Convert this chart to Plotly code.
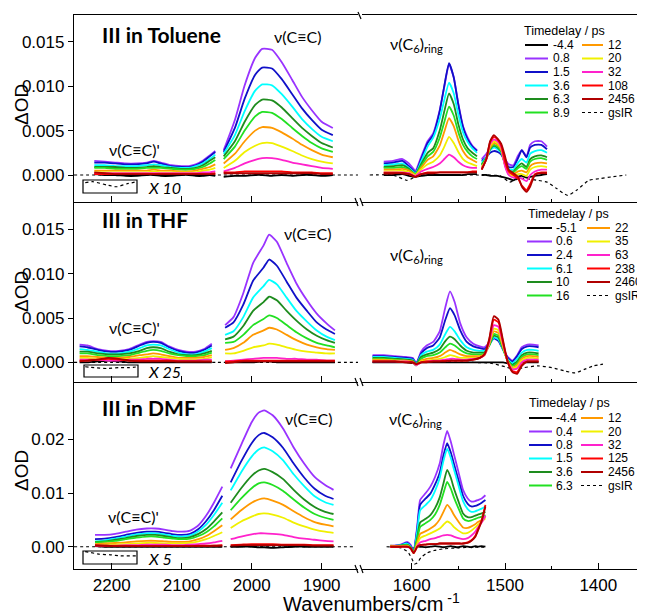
import numpy as np
import plotly.graph_objects as go

W, H = 645, 616
OFF = 8  # page body margin of the html page
UNIT = 1e-4  # all series values below are in units of 1e-4 dOD

COLORS = ["#000000", "#9933ff", "#1010c8", "#00ffff", "#1e8c1e", "#22e022",
          "#ff9900", "#f0f000", "#ff22cc", "#ff0000", "#b00000"]

TOL_DELAYS = ["-4.4", "0.8", "1.5", "3.6", "6.3", "8.9", "12", "20", "32", "108", "2456"]
THF_DELAYS = ["-5.1", "0.6", "2.4", "6.1", "10", "16", "22", "35", "63", "238", "2460"]
DMF_DELAYS = ["-4.4", "0.4", "0.8", "1.5", "3.6", "6.3", "12", "20", "32", "125", "2456"]

LEFT_XTICKS = [2200, 2100, 2000, 1900]
RIGHT_XTICKS = [1600, 1500, 1400]
Y_TICKS_SMALL = [0.0, 0.005, 0.010, 0.015]
Y_TICKS_DMF = [0.0, 0.01, 0.02]

# ---------------- Toluene ----------------
TOL_A_WN = [2225, 2210, 2195, 2180, 2165, 2150, 2140, 2130, 2115, 2100, 2090, 2080, 2070, 2060, 2052]
TOL_A = [
    [1, 0, 0, -1, -1, 0, 0, -1, -1, 0, 0, -1, -1, 0, -1],
    [16, 15, 14, 13, 13, 14, 16, 14, 11, 10, 10, 12, 16, 22, 27],
    [14, 14, 13, 12, 12, 13, 15, 13, 10, 9, 9, 11, 15, 21, 26],
    [11, 11, 10, 10, 10, 11, 12, 11, 9, 8, 8, 10, 13, 18, 23],
    [9, 9, 9, 8, 8, 9, 10, 9, 8, 7, 7, 8, 11, 16, 20],
    [8, 8, 7, 7, 7, 8, 8, 8, 7, 6, 6, 7, 9, 13, 17],
    [5, 5, 5, 5, 5, 5, 6, 5, 5, 4, 4, 5, 7, 9, 12],
    [3, 3, 3, 3, 3, 3, 4, 3, 3, 3, 3, 3, 5, 6, 8],
    [2, 2, 2, 2, 2, 2, 2, 2, 2, 2, 2, 2, 3, 3, 4],
    [1, 1, 1, 1, 1, 1, 1, 1, 1, 1, 1, 1, 1, 1, 2],
    [3, 2, 1, 1, 1, 1, 1, 1, 1, 1, 1, 1, 1, 1, 1],
]
TOL_B_WN = [2040, 2024, 2010, 1995, 1985, 1971, 1957, 1942, 1928, 1914, 1900, 1884]
TOL_B = [
    [-2, -1, -1, 0, 0, -1, 0, -1, 0, 0, -1, 0],
    [28, 62, 101, 132, 142, 141, 127, 107, 88, 73, 60, 53],
    [26, 53, 86, 113, 121, 120, 108, 91, 75, 62, 51, 45],
    [24, 45, 72, 95, 102, 101, 91, 77, 63, 52, 43, 38],
    [21, 38, 60, 79, 85, 84, 76, 64, 53, 44, 36, 31],
    [18, 32, 50, 66, 71, 70, 63, 53, 44, 36, 30, 26],
    [13, 24, 38, 50, 54, 53, 48, 41, 34, 28, 23, 20],
    [8, 16, 26, 33, 36, 36, 32, 27, 22, 18, 15, 13],
    [4, 8, 13, 17, 19, 19, 17, 14, 12, 10, 8, 7],
    [3, 3, 4, 4, 4, 4, 4, 3, 3, 3, 2, 2],
    [2, 2, 2, 2, 2, 2, 2, 2, 2, 2, 1, 1],
]
TOL_C_WN = [1630, 1620, 1610, 1603, 1596, 1590, 1583, 1577, 1570, 1565, 1560, 1555, 1550, 1545, 1540, 1535, 1530]
TOL_C = [
    [0, 0, 1, -1, -2, -1, 0, 0, 0, 0, 0, 0, 0, 0, 1, 1, 1],
    [15, 16, 18, 13, 5, 20, 38, 47, 73, 100, 125, 110, 80, 55, 42, 33, 28],
    [13, 14, 16, 10, 3, 18, 36, 45, 72, 101, 126, 110, 79, 54, 40, 32, 27],
    [11, 12, 13, 8, 2, 15, 32, 42, 63, 85, 104, 92, 68, 48, 37, 30, 25],
    [9, 10, 11, 7, 1, 12, 25, 30, 50, 72, 92, 80, 57, 40, 30, 25, 21],
    [8, 8, 9, 6, 1, 10, 21, 26, 42, 60, 77, 67, 48, 34, 26, 21, 18],
    [6, 6, 7, 5, 0, 8, 17, 21, 33, 49, 64, 55, 39, 27, 20, 17, 14],
    [4, 4, 5, 3, 0, 6, 12, 15, 22, 32, 43, 36, 26, 18, 14, 12, 10],
    [3, 3, 3, 2, -1, 4, 7, 9, 13, 18, 23, 20, 15, 11, 9, 8, 8],
    [2, 2, 2, 1, -2, 1, 3, 3, 3, 3, 3, 3, 3, 3, 3, 4, 4],
    [2, 2, 2, 1, -2, 1, 2, 2, 3, 3, 3, 3, 3, 3, 3, 3, 3],
]
TOL_D_WN = [1525, 1520, 1516, 1512, 1508, 1504, 1500, 1496, 1491, 1486, 1482, 1477, 1473, 1468, 1461, 1455]
TOL_D = [
    [0, 0, -1, -1, -1, -2, -3, -4, -6, -2, -1, -3, -2, -1, 0, 1],
    [18, 24, 30, 32, 30, 27, 18, 12, 11, 22, 28, 21, 34, 38, 38, 32],
    [16, 20, 25, 27, 26, 23, 15, 9, 9, 19, 28, 20, 31, 34, 34, 29],
    [14, 20, 28, 31, 29, 25, 14, 7, 6, 14, 18, 14, 24, 27, 28, 25],
    [12, 19, 29, 33, 31, 26, 12, 5, 4, 10, 13, 9, 18, 21, 22, 20],
    [11, 19, 30, 34, 32, 27, 12, 4, 3, 8, 10, 7, 15, 18, 19, 17],
    [9, 18, 31, 36, 34, 28, 11, 2, 1, 4, 5, 3, 10, 13, 14, 13],
    [8, 18, 33, 38, 36, 30, 11, 1, -1, 1, 1, -1, 6, 9, 10, 9],
    [7, 18, 35, 40, 38, 31, 10, 0, -3, -3, -4, -7, 0, 4, 6, 6],
    [6, 18, 37, 43, 40, 33, 15, 4, 0, -4, -12, -17, -10, 1, 3, 3],
    [6, 18, 38, 45, 41, 35, 21, 6, 2, -2, -13, -19, -13, 0, 2, 2],
]
TOL_GS_L_WN = [2254, 2150, 2050, 1950, 1848]
TOL_GS_L = [0, 0, 0, 0, 0]
TOL_GS_R_WN = [1645, 1620, 1605, 1598, 1590, 1560, 1530, 1505, 1495, 1485, 1477, 1465, 1455, 1445, 1433, 1423, 1410, 1398, 1385, 1370]
TOL_GS_R = [0, 0, -6, -3, 0, 0, 0, -1, -8, -4, -4, -6, -8, -15, -23, -17, -6, -4, -2, 0]
TOL_INSET_WN = [2238, 2227, 2207, 2193, 2179, 2164]
TOL_INSET = [-8.7, -7.5, -11.3, -13.2, -10.1, -7.5]

# ---------------- THF ----------------
THF_A_WN = [2246, 2235, 2220, 2205, 2190, 2175, 2160, 2150, 2141, 2130, 2118, 2105, 2093, 2080, 2068, 2057]
THF_A = [
    [0, 0, 1, 2, 1, 0, 0, 0, 0, 0, 0, 0, 0, 0, 0, 0],
    [20, 19, 15, 13, 13, 15, 20, 23, 24, 23, 18, 14, 12, 12, 15, 21],
    [18, 17, 14, 12, 12, 14, 19, 22, 23, 22, 17, 13, 11, 11, 14, 19],
    [15, 14, 12, 10, 10, 12, 16, 19, 20, 19, 15, 11, 9, 9, 12, 16],
    [12, 12, 10, 9, 9, 10, 13, 16, 17, 16, 12, 9, 8, 8, 10, 13],
    [10, 10, 8, 7, 7, 8, 11, 13, 14, 13, 10, 8, 7, 7, 8, 11],
    [7, 7, 6, 5, 5, 6, 8, 9, 10, 9, 7, 5, 5, 5, 6, 8],
    [5, 5, 4, 4, 4, 4, 5, 6, 7, 6, 5, 4, 3, 3, 4, 6],
    [3, 3, 3, 2, 2, 3, 3, 4, 4, 4, 3, 2, 2, 2, 3, 3],
    [2, 2, 3, 4, 3, 2, 2, 2, 2, 2, 2, 1, 1, 1, 1, 1],
    [1, 2, 3, 5, 4, 2, 1, 1, 1, 1, 1, 1, 1, 1, 1, 1],
]
THF_B_WN = [2038, 2026, 2012, 1998, 1983, 1975, 1964, 1950, 1936, 1921, 1907, 1893, 1881]
THF_B = [
    [0, 0, 0, 0, 1, 1, 0, 0, 0, 0, 0, 0, 0],
    [42, 51, 78, 112, 132, 144, 136, 112, 89, 70, 55, 44, 36],
    [39, 45, 65, 92, 107, 116, 109, 91, 73, 58, 45, 37, 32],
    [31, 35, 51, 73, 86, 93, 88, 73, 58, 46, 36, 29, 25],
    [26, 29, 41, 58, 68, 74, 70, 58, 47, 37, 30, 25, 22],
    [22, 23, 31, 42, 49, 53, 50, 42, 34, 27, 22, 19, 17],
    [14, 16, 22, 31, 36, 39, 37, 31, 25, 20, 17, 15, 14],
    [10, 10, 13, 17, 19, 21, 20, 17, 14, 12, 11, 10, 10],
    [1, 2, 3, 4, 5, 5, 5, 4, 4, 3, 3, 2, 2],
    [1, 1, 2, 2, 2, 2, 2, 2, 2, 2, 2, 2, 2],
    [-1, 0, 1, 1, 1, 1, 1, 1, 1, 1, 1, 1, 1],
]
THF_C_WN = [1642, 1630, 1618, 1606, 1599, 1595, 1590, 1584, 1577, 1570, 1564, 1559, 1554, 1548, 1541,
            1534, 1527, 1522, 1517, 1512, 1507, 1502, 1497, 1492, 1487, 1482, 1476, 1470, 1464]
THF_C = [
    [0, 0, 0, 0, -1, -1, 0, 0, 0, 0, 0, 0, 0, 0, 0, 0, 0, 0, 0, 0, 0, 0, -1, -1, -1, 0, 0, 0, 0],
    [8, 8, 7, 6, 5, -1, 12, 19, 23, 35, 62, 80, 68, 44, 28, 21, 18, 17, 22, 28, 25, 15, 6, 2, 8, 17, 20, 20, 19],
    [7, 7, 6, 5, 4, -1, 10, 16, 19, 28, 48, 61, 53, 36, 23, 18, 16, 15, 20, 27, 24, 14, 5, 1, 7, 15, 18, 18, 17],
    [6, 6, 5, 4, 3, -2, 8, 12, 14, 20, 32, 40, 35, 25, 17, 14, 13, 13, 19, 28, 26, 14, 3, -1, 4, 11, 14, 14, 13],
    [5, 5, 4, 3, 2, -2, 6, 9, 11, 15, 24, 29, 26, 19, 13, 11, 11, 11, 19, 30, 28, 15, 2, -3, 1, 8, 11, 11, 10],
    [4, 4, 3, 2, 1, -3, 4, 7, 8, 11, 17, 21, 19, 14, 10, 9, 9, 10, 19, 32, 30, 16, 1, -4, -1, 6, 9, 9, 8],
    [3, 3, 2, 2, 1, -3, 2, 4, 5, 7, 11, 14, 12, 9, 7, 7, 7, 9, 20, 35, 33, 17, 1, -6, -3, 4, 7, 7, 6],
    [2, 2, 2, 1, 0, -3, 1, 2, 3, 4, 6, 8, 7, 5, 5, 5, 6, 8, 21, 38, 36, 18, 0, -7, -5, 2, 5, 5, 4],
    [1, 1, 1, 1, 0, -3, 0, 1, 2, 2, 3, 4, 4, 3, 3, 4, 5, 8, 22, 42, 40, 20, 0, -8, -7, 0, 3, 3, 3],
    [1, 1, 1, 0, 0, -2, 0, 1, 1, 1, 2, 2, 2, 2, 2, 3, 5, 9, 25, 48, 45, 22, 0, -10, -11, -3, 1, 1, 1],
    [1, 1, 1, 0, 0, -2, 0, 0, 1, 1, 1, 2, 2, 2, 2, 3, 5, 9, 26, 52, 48, 24, 0, -11, -13, -4, 1, 1, 1],
]
THF_GS_L_WN = [2254, 2150, 2050, 1950, 1848]
THF_GS_L = [0, 0, 0, 0, 0]
THF_GS_R_WN = [1642, 1600, 1595, 1590, 1540, 1515, 1500, 1490, 1480, 1465, 1450, 1435, 1425, 1415, 1405, 1395]
THF_GS_R = [0, 0, -4, 0, 0, -1, -5, -8, -6, -4, -6, -10, -12, -8, -4, -2]
THF_INSET_WN = [2238, 2225, 2207, 2190, 2175, 2163]
THF_INSET = [-5, -6, -7, -6, -6, -5]

# ---------------- DMF ----------------
DMF_A_WN = [2224, 2210, 2195, 2180, 2165, 2150, 2138, 2125, 2112, 2100, 2088, 2076, 2065, 2054, 2042]
DMF_A = [
    [1, 0, 0, 0, 0, 0, 0, 0, 0, 0, 0, 0, 0, 0, 0],
    [22, 22, 24, 28, 32, 34, 34, 32, 29, 28, 30, 40, 58, 82, 112],
    [14, 15, 18, 22, 26, 28, 28, 26, 23, 22, 24, 33, 48, 68, 95],
    [10, 12, 15, 19, 23, 25, 25, 23, 20, 19, 21, 29, 41, 59, 82],
    [9, 10, 13, 16, 20, 22, 22, 20, 17, 16, 18, 24, 33, 47, 64],
    [8, 9, 11, 14, 17, 19, 19, 17, 15, 14, 15, 20, 27, 38, 53],
    [5, 6, 7, 8, 10, 11, 11, 10, 9, 9, 10, 14, 20, 29, 40],
    [3, 4, 4, 5, 6, 7, 7, 6, 6, 6, 7, 10, 14, 20, 27],
    [2, 2, 2, 3, 3, 4, 4, 4, 3, 3, 4, 5, 6, 8, 11],
    [2, 2, 1, 1, 1, 1, 1, 1, 1, 1, 1, 2, 2, 2, 3],
    [3, 2, 1, 1, 1, 1, 1, 1, 1, 1, 1, 1, 1, 2, 2],
]
DMF_B_WN = [2030, 2015, 2000, 1990, 1982, 1970, 1955, 1940, 1925, 1910, 1895, 1883]
DMF_B = [
    [0, 0, 0, -1, -1, -2, -1, 0, 0, 0, 0, 0],
    [146, 190, 232, 250, 254, 245, 220, 185, 155, 130, 115, 106],
    [120, 159, 193, 208, 212, 204, 184, 155, 129, 108, 95, 89],
    [105, 139, 168, 181, 185, 178, 161, 135, 113, 94, 83, 78],
    [82, 109, 132, 142, 145, 139, 126, 106, 88, 74, 65, 61],
    [68, 90, 109, 118, 120, 115, 104, 88, 73, 61, 54, 50],
    [51, 68, 82, 88, 90, 86, 78, 66, 55, 46, 41, 38],
    [35, 47, 56, 61, 62, 60, 54, 45, 38, 32, 28, 26],
    [14, 19, 23, 25, 25, 24, 22, 18, 15, 13, 11, 10],
    [3, 4, 5, 5, 5, 5, 4, 4, 4, 3, 3, 3],
    [2, 3, 3, 3, 3, 3, 3, 3, 3, 2, 2, 2],
]
DMF_C_WN = [1623, 1612, 1605, 1601, 1598, 1594, 1591, 1585, 1580, 1575, 1570, 1566, 1562, 1558, 1555,
            1550, 1545, 1540, 1536, 1532, 1529, 1525, 1521]
DMF_C = [
    [2, 1, 0, -1, -3, 0, 0, -1, 0, 1, 0, -1, 0, 1, 0, -1, 1, 0, -1, 1, 0, 1, 0],
    [1, 4, 9, 3, -9, 40, 87, 100, 112, 130, 155, 190, 216, 195, 174, 140, 106, 90, 84, 85, 87, 90, 96],
    [1, 3, 7, 1, -10, 35, 78, 90, 99, 116, 138, 170, 193, 175, 156, 125, 95, 80, 75, 76, 78, 82, 87],
    [1, 3, 6, 0, -11, 30, 68, 78, 87, 104, 128, 160, 183, 165, 146, 115, 85, 70, 65, 66, 68, 71, 75],
    [1, 2, 4, -1, -11, 18, 45, 52, 59, 72, 92, 118, 143, 128, 110, 85, 62, 55, 55, 58, 60, 62, 65],
    [1, 2, 3, -2, -11, 14, 37, 44, 50, 60, 78, 100, 121, 108, 93, 72, 53, 48, 49, 52, 54, 56, 59],
    [1, 1, 2, -3, -12, 8, 24, 29, 34, 40, 51, 65, 78, 70, 60, 47, 36, 35, 38, 42, 46, 50, 56],
    [1, 1, 1, -4, -12, 4, 16, 21, 25, 29, 34, 41, 47, 43, 37, 30, 25, 26, 30, 36, 41, 47, 53],
    [0, 0, 0, -4, -12, 2, 8, 11, 14, 16, 19, 21, 22, 21, 19, 16, 14, 16, 21, 28, 36, 45, 58],
    [0, 0, 0, -3, -12, 0, 3, 4, 5, 5, 6, 6, 6, 6, 6, 6, 6, 8, 12, 20, 32, 50, 78],
    [0, 0, 0, -3, -12, 0, 3, 4, 5, 5, 6, 6, 6, 6, 6, 6, 6, 7, 11, 18, 30, 48, 75],
]
DMF_GS_L_WN = [2254, 2150, 2050, 1950, 1852]
DMF_GS_L = [0, 0, 0, 0, 0]
DMF_GS_R_WN = [1627, 1612, 1604, 1600, 1597, 1594, 1590, 1584, 1576, 1566, 1550, 1535, 1521]
DMF_GS_R = [0, -2, -10, -22, -32, -30, -20, -12, -7, -4, -2, -1, -1]
DMF_INSET_WN = [2238, 2217, 2202, 2188, 2164]
DMF_INSET = [-9, -14, -15, -17, -17]


# ---------------- layout geometry (screen pixels) ----------------
def PX(x):
    return (x - OFF) / W


def PY(y):
    return 1 - (y - OFF) / H


X_LEFT = (74, 358)
X_RIGHT = (362, 643)
ROWS_PX = [(15, 202), (202, 382), (382, 569)]
LEFT_RANGE = [2254, 1848]
RIGHT_RANGE = [1653.3, 1352.1]
Y_RANGES = [[-0.00304, 0.01802], [-0.00222, 0.01809], [-0.00415, 0.0307]]

ARIAL = "Liberation Sans, Arial, sans-serif"
TICK_FONT = dict(family=ARIAL, size=17, color="black")
LBL_FONT = dict(family="Lato, sans-serif", size=16, color="black")

fig = go.Figure()
layout = dict(width=W, height=H, margin=dict(l=0, r=0, t=0, b=0),
              paper_bgcolor="white", plot_bgcolor="white", showlegend=False,
              template="none")


def ax_id(row, col):
    i = (row - 1) * 2 + col
    return ("" if i == 1 else str(i)), i


for r in range(1, 4):
    top, bot = ROWS_PX[r - 1]
    ydom = [PY(bot), PY(top)]
    for c in (1, 2):
        sfx, i = ax_id(r, c)
        xdom = [PX(X_LEFT[0]), PX(X_LEFT[1])] if c == 1 else [PX(X_RIGHT[0]), PX(X_RIGHT[1])]
        xa = dict(domain=xdom, range=LEFT_RANGE if c == 1 else RIGHT_RANGE,
                  anchor="y" + sfx, showline=True, linecolor="black", linewidth=1.3,
                  ticks="inside", ticklen=6, tickwidth=1.2, tickcolor="black",
                  tickvals=LEFT_XTICKS if c == 1 else RIGHT_XTICKS,
                  showticklabels=(r == 3), tickfont=TICK_FONT, showgrid=False,
                  zeroline=False, mirror=(r == 1), automargin=False)
        if c == 2:
            xa["minor"] = dict(tickvals=[1550, 1450], ticklen=3, ticks="inside",
                               tickcolor="black", tickwidth=1.2)
        layout["xaxis" + sfx] = xa
        yticks = Y_TICKS_DMF if r == 3 else Y_TICKS_SMALL
        ya = dict(domain=ydom, range=Y_RANGES[r - 1], anchor="x" + sfx,
                  showgrid=False, zeroline=False, automargin=False)
        if c == 1:
            ya.update(showline=True, linecolor="black", linewidth=1.3, ticks="outside",
                      ticklen=5, tickwidth=1.2, tickcolor="black", tickvals=yticks,
                      tickformat=".2f" if r == 3 else ".3f", tickfont=TICK_FONT)
        else:
            ya.update(visible=False)
        layout["yaxis" + sfx] = ya


def add_seg(row, col, wn, vals_list, width=1.8):
    sfx, _ = ax_id(row, col)
    for k, vals in enumerate(vals_list):
        fig.add_trace(go.Scatter(
            x=wn, y=np.array(vals, dtype=float) * UNIT, mode="lines",
            xaxis="x" + sfx, yaxis="y" + sfx, hoverinfo="skip",
            line=dict(color=COLORS[k], width=width, shape="spline", smoothing=0.5)))


def add_dotted(row, col, wn, vals):
    sfx, _ = ax_id(row, col)
    fig.add_trace(go.Scatter(
        x=wn, y=np.array(vals, dtype=float) * UNIT, mode="lines",
        xaxis="x" + sfx, yaxis="y" + sfx, hoverinfo="skip",
        line=dict(color="black", width=1.2, dash="dot", shape="spline", smoothing=0.5)))


PANELS = [
    (1, TOL_GS_L_WN, TOL_GS_L, TOL_GS_R_WN, TOL_GS_R, TOL_INSET_WN, TOL_INSET,
     [(TOL_A_WN, TOL_A, 1), (TOL_B_WN, TOL_B, 1), (TOL_C_WN, TOL_C, 2), (TOL_D_WN, TOL_D, 2)]),
    (2, THF_GS_L_WN, THF_GS_L, THF_GS_R_WN, THF_GS_R, THF_INSET_WN, THF_INSET,
     [(THF_A_WN, THF_A, 1), (THF_B_WN, THF_B, 1), (THF_C_WN, THF_C, 2)]),
    (3, DMF_GS_L_WN, DMF_GS_L, DMF_GS_R_WN, DMF_GS_R, DMF_INSET_WN, DMF_INSET,
     [(DMF_A_WN, DMF_A, 1), (DMF_B_WN, DMF_B, 1), (DMF_C_WN, DMF_C, 2)]),
]

for row, gl_wn, gl, gr_wn, gr, in_wn, inset, segs in PANELS:
    add_dotted(row, 1, gl_wn, gl)
    add_dotted(row, 2, gr_wn, gr)
    add_dotted(row, 1, in_wn, inset)
    for wn, vals, col in segs:
        add_seg(row, col, wn, vals)

shapes = []
annotations = []

# inset boxes (pixel positions of the frames)
INSET_BOXES = [(83, 137, 180, 193, "X 10"), (84, 138, 365, 377, "X 25"), (83, 137, 551, 564, "X 5")]
for x0, x1, y0, y1, txt in INSET_BOXES:
    shapes.append(dict(type="rect", xref="paper", yref="paper", x0=PX(x0), x1=PX(x1),
                       y0=PY(y1), y1=PY(y0), line=dict(color="black", width=1.2)))
    annotations.append(dict(xref="paper", yref="paper", x=PX(146), y=PY((y0 + y1) / 2 + 0.5),
                            xanchor="left", yanchor="middle", showarrow=False,
                            text="<i>%s</i>" % txt,
                            font=dict(family="Lato, sans-serif", size=16, color="black")))

# axis break marks
for yb in (202, 382, 569):
    for xb in (355, 360):
        shapes.append(dict(type="line", xref="paper", yref="paper", x0=PX(xb), y0=PY(yb - 4),
                           x1=PX(xb + 3), y1=PY(yb + 4), line=dict(color="black", width=1.2)))
shapes.append(dict(type="line", xref="paper", yref="paper", x0=PX(358), y0=PY(12),
                   x1=PX(361), y1=PY(19), line=dict(color="black", width=1.2)))

# panel titles / band labels
TITLES = [("III in Toluene", 100, 35), ("III in THF", 100, 220), ("III in DMF", 100, 407)]
for txt, x, y in TITLES:
    annotations.append(dict(xref="paper", yref="paper", x=PX(x), y=PY(y), xanchor="left",
                            yanchor="middle", showarrow=False, text="<b>%s</b>" % txt,
                            font=dict(family="Lato, sans-serif", size=21, color="black")))

BAND_LABELS = [
    ("ν(C≡C)'", 107, 149), ("ν(C≡C)", 272, 37), ("ν(C<sub>6</sub>)<sub>ring</sub>", 388, 45),
    ("ν(C≡C)'", 107, 327), ("ν(C≡C)", 282, 233), ("ν(C<sub>6</sub>)<sub>ring</sub>", 388, 255),
    ("ν(C≡C)'", 106, 516), ("ν(C≡C)", 283, 418), ("ν(C<sub>6</sub>)<sub>ring</sub>", 387, 419),
]
for txt, x, y in BAND_LABELS:
    annotations.append(dict(xref="paper", yref="paper", x=PX(x), y=PY(y), xanchor="left",
                            yanchor="middle", showarrow=False, text=txt, font=LBL_FONT))

# y titles
for yc in (105, 292, 471):
    annotations.append(dict(xref="paper", yref="paper", x=PX(21), y=PY(yc), xanchor="center",
                            yanchor="middle", showarrow=False, text="ΔOD", textangle=-90,
                            font=dict(family=ARIAL, size=19, color="black")))

# x title
annotations.append(dict(xref="paper", yref="paper", x=PX(282), y=PY(602), xanchor="left",
                        yanchor="middle", showarrow=False, text="Wavenumbers/cm<sup> -1</sup>",
                        font=dict(family=ARIAL, size=20, color="black"), borderpad=0))

# legends (drawn manually, two columns)
LEG_FONT = dict(family=ARIAL, size=12, color="black")
LEGENDS = [
    (TOL_DELAYS, 523, 31, 45, (525, 548, 552), (582, 603, 607)),
    (THF_DELAYS, 527, 214, 228, (527, 552, 555), (587, 610, 614)),
    (DMF_DELAYS, 528, 403, 418, (529, 552, 555), (581, 603, 607)),
]
STEP = 13.5
for delays, tx, ty, y0, c1, c2 in LEGENDS:
    annotations.append(dict(xref="paper", yref="paper", x=PX(tx), y=PY(ty), xanchor="left",
                            yanchor="middle", showarrow=False, text="Timedelay / ps",
                            font=dict(family=ARIAL, size=12.5, color="black"), borderpad=0))
    labels = delays + ["gsIR"]
    for k, lab in enumerate(labels):
        col = c1 if k < 6 else c2
        yy = y0 + (k % 6) * STEP
        if k < 11:
            line = dict(color=COLORS[k], width=2)
        else:
            line = dict(color="black", width=1.2, dash="dot")
        shapes.append(dict(type="line", xref="paper", yref="paper", x0=PX(col[0]), x1=PX(col[1]),
                           y0=PY(yy), y1=PY(yy), line=line))
        annotations.append(dict(xref="paper", yref="paper", x=PX(col[2]), y=PY(yy), xanchor="left",
                                yanchor="middle", showarrow=False, text=lab, font=LEG_FONT,
                                borderpad=0))

layout["shapes"] = shapes
layout["annotations"] = annotations
fig.update_layout(**layout)
fig.write_html("out.html")
